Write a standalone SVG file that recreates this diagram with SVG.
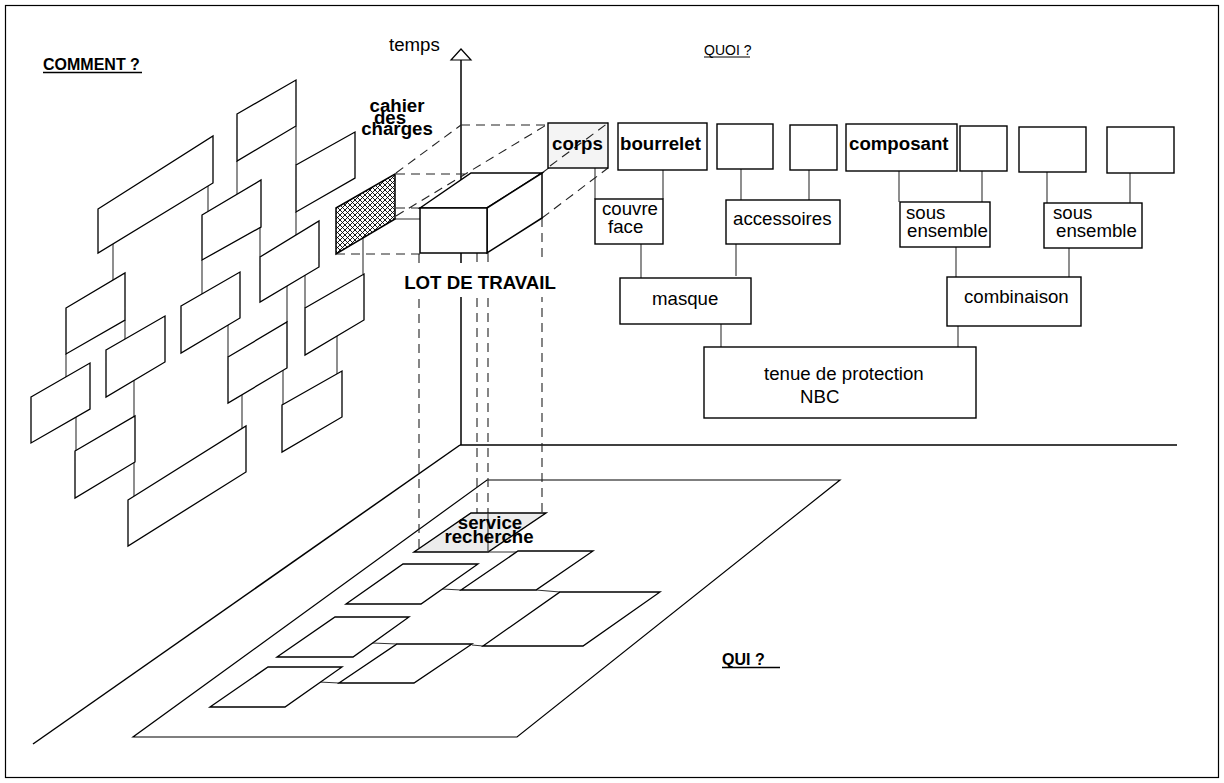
<svg xmlns="http://www.w3.org/2000/svg" width="1224" height="783" viewBox="0 0 1224 783">
<defs>
<pattern id="hatch" width="5" height="5" patternUnits="userSpaceOnUse">
<rect width="5" height="5" fill="#fff"/>
<path d="M0,0 L5,5 M5,0 L0,5" stroke="#000" stroke-width="0.9"/>
</pattern>
</defs>
<style>
.t{font-family:"Liberation Sans",Arial,sans-serif;font-size:18.67px;fill:#000}
.b{font-weight:bold}
.box{fill:#fff;stroke:#000;stroke-width:1.4}
.sh{fill:#fff;stroke:#000;stroke-width:1.3}
.ln{stroke:#333;stroke-width:1.1;fill:none}
.dash{stroke:#222;stroke-width:1.1;stroke-dasharray:9 6;fill:none}
.ax{stroke:#000;stroke-width:1.5;fill:none}
</style>
<rect x="5.5" y="5.5" width="1213" height="772" fill="#fff" stroke="#000" stroke-width="1.2"/>

<g id="labels">
<text class="t b" x="43" y="70" style="font-size:16px">COMMENT ?</text>
<line x1="43" y1="72.5" x2="142" y2="72.5" stroke="#000" stroke-width="1.4"/>
<text class="t" x="704" y="55" style="font-size:14px">QUOI ?</text>
<line x1="704" y1="57" x2="750" y2="57" stroke="#000" stroke-width="1"/>
<text class="t b" x="722" y="665" style="font-size:16px">QUI ?</text>
<line x1="722" y1="667.5" x2="780" y2="667.5" stroke="#000" stroke-width="1.4"/>
<text class="t" x="389" y="51">temps</text>
</g>

<g id="axes">
<line class="ax" x1="461" y1="60" x2="461" y2="445"/>
<polygon points="451,60 461,49 471,60" fill="#fff" stroke="#000" stroke-width="1.2"/>
<line class="ax" x1="460" y1="445" x2="1177" y2="445"/>
<line class="ax" x1="460" y1="445" x2="33" y2="744"/>
<polygon points="487,480 840,480 517,737 133,737" fill="none" stroke="#000" stroke-width="1.2"/>
</g>

<g id="connectors">
<path class="ln" d="M113,244V281 M208,186V211 M237,161V194 M296,126V165 M296,212V235 M260,227V257 M202,260V294 M363,238V274 M305,275V308 M66,354V377 M125,320V339 M76,417V451 M134,380V496 M228,325V357 M287,286V322 M337,336V374 M242,395V429 M283,370V405"/>
<path class="ln" d="M595,168V199 M663,170V199 M741,169V200 M809,170V200 M641,244V278 M736,244V276 M899,171V202 M982,171V202 M1047,172V203 M1130,173V203 M956,247V277 M1069,248V277 M721,324V347 M958,326V347"/>
<path class="ln" d="M488,552H518 M442,589L461,590 M536,590L560,592 M372,643L397,644 M472,645L483,646 M319,682L339,683"/>
<path class="dash" d="M396,173L461,125 M461,125H548 M396,174H471 M336,208H420 M336,254H420 M396,216L548,124 M542,173L608,123 M542,218L608,168"/>
<path class="dash" d="M419,254V552 M477,253V513 M488,253V513 M542,218V513"/>
<path class="ln" d="M395,219H420 M488,513V552"/>
</g>

<g id="comment-cluster">
<polygon class="sh" points="98,209 213,136 213,183 98,253"/>
<polygon class="sh" points="237,114 296,80 296,126 237,161"/>
<polygon class="sh" points="202,215 261,180 261,227 202,260"/>
<polygon class="sh" points="296,165 355,132 355,178 296,212"/>
<polygon class="sh" points="260,257 319,221 319,267 260,302"/>
<polygon class="sh" points="66,308 125,273 125,320 66,354"/>
<polygon class="sh" points="181,306 240,272 240,318 181,353"/>
<polygon class="sh" points="305,308 364,274 364,320 305,355"/>
<polygon class="sh" points="31,397 90,363 90,409 31,443"/>
<polygon class="sh" points="106,350 165,316 165,362 106,397"/>
<polygon class="sh" points="75,451 135,416 135,462 75,498"/>
<polygon class="sh" points="128,500 246,426 246,472 128,546"/>
<polygon class="sh" points="228,357 287,322 287,368 228,403"/>
<polygon class="sh" points="282,405 342,371 342,417 282,452"/>
</g>

<g id="cahier">
<polygon points="336,208 395,174 395,219 336,254" fill="url(#hatch)" stroke="#000" stroke-width="1.5"/>
<text class="t b" x="397" y="112" text-anchor="middle">cahier</text>
<text class="t b" x="390" y="124" text-anchor="middle">des</text>
<text class="t b" x="397" y="135" text-anchor="middle">charges</text>
</g>

<g id="lot">
<polygon points="420,208 471,173 542,173 487,208" fill="#fff" stroke="#000" stroke-width="1.5"/>
<polygon points="487,208 542,173 542,218 487,253" fill="#fff" stroke="#000" stroke-width="1.5"/>
<rect x="420" y="208" width="67" height="45" fill="#fff" stroke="#000" stroke-width="1.5"/>
<rect x="399" y="263" width="163" height="34" fill="#fff"/>
<text class="t b" x="480" y="289" text-anchor="middle">LOT DE TRAVAIL</text>
</g>

<g id="tree">
<rect class="box" x="548" y="123" width="60" height="45" style="fill:#f4f4f4"/>
<line class="dash" x1="550" y1="166" x2="608" y2="123"/>
<text class="t b" x="552" y="150">corps</text>
<rect class="box" x="618" y="123" width="89" height="47"/>
<text class="t b" x="620" y="150">bourrelet</text>
<rect class="box" x="717" y="124" width="56" height="45"/>
<rect class="box" x="790" y="125" width="47" height="45"/>
<rect class="box" x="846" y="124" width="111" height="47"/>
<text class="t b" x="849" y="150">composant</text>
<rect class="box" x="960" y="126" width="47" height="45"/>
<rect class="box" x="1019" y="127" width="67" height="45"/>
<rect class="box" x="1107" y="127" width="67" height="46"/>
<rect class="box" x="595" y="199" width="68" height="45"/>
<text class="t" x="602" y="215">couvre</text>
<text class="t" x="608" y="233">face</text>
<rect class="box" x="726" y="200" width="114" height="44"/>
<text class="t" x="733" y="225">accessoires</text>
<rect class="box" x="620" y="278" width="131" height="46"/>
<text class="t" x="652" y="305">masque</text>
<rect class="box" x="900" y="202" width="90" height="45"/>
<text class="t" x="906" y="219">sous</text>
<text class="t" x="907" y="237">ensemble</text>
<rect class="box" x="1044" y="203" width="98" height="45"/>
<text class="t" x="1053" y="219">sous</text>
<text class="t" x="1056" y="237">ensemble</text>
<rect class="box" x="947" y="277" width="134" height="49"/>
<text class="t" x="964" y="303">combinaison</text>
<rect class="box" x="704" y="347" width="272" height="71"/>
<text class="t" x="764" y="380">tenue de protection</text>
<text class="t" x="800" y="403">NBC</text>
</g>

<g id="floor">
<polygon points="414,552 471,513 546,513 488,552" fill="#ececec" stroke="#000" stroke-width="1.4"/>
<line class="ln" x1="488" y1="513" x2="488" y2="552"/>
<text class="t b" x="490" y="529" text-anchor="middle">service</text>
<text class="t b" x="489" y="543" text-anchor="middle">recherche</text>
<polygon class="sh" points="346,604 403,564 478,564 421,604"/>
<polygon class="sh" points="461,590 518,551 593,551 536,590"/>
<polygon class="sh" points="483,646 560,592 660,592 583,646"/>
<polygon class="sh" points="277,657 335,617 409,617 353,657"/>
<polygon class="sh" points="339,683 397,644 472,644 414,683"/>
<polygon class="sh" points="210,707 268,667 342,667 285,707"/>
</g>
</svg>
